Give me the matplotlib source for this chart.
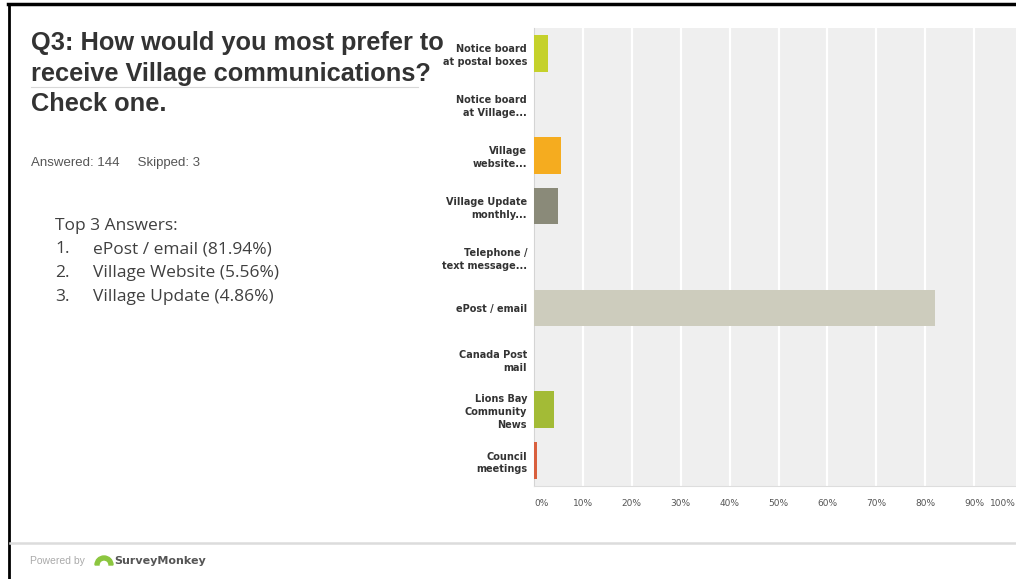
import matplotlib.pyplot as plt
from matplotlib.patches import Wedge
from matplotlib.lines import Line2D
from matplotlib.transforms import IdentityTransform, ScaledTranslation

W, H = 1016, 579

# answer options, top to bottom
categories = ["Notice board\nat postal boxes", "Notice board\nat Village...",
              "Village\nwebsite...", "Village Update\nmonthly...",
              "Telephone /\ntext message...", "ePost / email",
              "Canada Post\nmail", "Lions Bay\nCommunity\nNews",
              "Council\nmeetings"]
percents = [2.78, 0.0, 5.56, 4.86, 0.0, 81.94, 0.0, 4.17, 0.69]
bar_colors = ["#c5d12b", "#9bb83a", "#f5ac1f", "#8a8a79", "#4f9fd0",
              "#cdccbd", "#e0d7a0", "#a3bb36", "#d9603e"]

ticks = list(range(0, 101, 10))
tick_labels = [f"{t}%" for t in ticks]

title_lines = ["Q3: How would you most prefer to",
               "receive Village communications?",
               "Check one."]
answered, skipped = 144, 3
top3 = ["ePost / email (81.94%)", "Village Website (5.56%)", "Village Update (4.86%)"]


def fx(x):
    return x / W


def fy(y):
    return 1 - y / H


fig = plt.figure(figsize=(W / 100, H / 100), dpi=100)
fig.patch.set_facecolor("white")

# bar chart on the right
ax = fig.add_axes([fx(534), fy(486), 489 / W, 458 / H])
ax.set_facecolor("#efefef")
ax.barh(range(len(categories)), percents, height=0.72, color=bar_colors, zorder=3)
ax.set_xlim(0, 100)
ax.set_ylim(len(categories) - 0.5, -0.5)
ax.set_xticks(ticks)
ax.set_xticklabels(tick_labels)
ax.set_yticks(range(len(categories)))
ax.set_yticklabels(categories, fontsize=7, fontweight="bold", color="#333333",
                   linespacing=1.35)
ax.tick_params(axis="y", length=0, pad=5)
ax.tick_params(axis="x", length=0, pad=9, labelsize=6.5, labelcolor="#555555")
lbls = ax.get_xticklabels()
lbls[0].set_ha("left")
lbls[-1].set_ha("right")
lbls[-1].set_transform(lbls[-1].get_transform() +
                       ScaledTranslation(-7 / 100, 0, fig.dpi_scale_trans))
ax.grid(axis="x", color="white", linewidth=1.6, zorder=1)
for s in ["top", "right"]:
    ax.spines[s].set_visible(False)
ax.spines["left"].set_color("#d4d4d4")
ax.spines["bottom"].set_color("#dddddd")

# question title and counts
for i, line in enumerate(title_lines):
    fig.text(fx(31), fy(43 + 30.5 * i), line, fontsize=18.3, fontweight="bold",
             color="#333333", family="Liberation Sans", va="center")
fig.add_artist(Line2D([fx(31), fx(418)], [fy(87), fy(87)], color="#d8d8d8", lw=0.8))
fig.text(fx(31), fy(163), f"Answered: {answered}     Skipped: {skipped}", fontsize=9.5,
         color="#555555", family="Liberation Sans", va="center")

# top answers summary
fig.text(fx(55), fy(226), "Top 3 Answers:", fontsize=12.5, color="#404040",
         family="Open Sans", va="center")
for i, txt in enumerate(top3):
    y = fy(249 + 24 * i)
    fig.text(fx(55), y, f"{i + 1}.", fontsize=12.5, color="#404040",
             family="Open Sans", va="center")
    fig.text(fx(93), y, txt, fontsize=12.5, color="#404040",
             family="Open Sans", va="center")

# page frame and footer
fig.add_artist(Line2D([fx(8), 1], [fy(4), fy(4)], color="black", lw=2.5))
fig.add_artist(Line2D([fx(9), fx(9)], [fy(4), 0], color="black", lw=2))
fig.add_artist(Line2D([fx(10), 1], [fy(543), fy(543)], color="#dcdcdc", lw=1.8))
fig.text(fx(30), fy(561), "Powered by", fontsize=7.5, color="#aaaaaa",
         family="Liberation Sans", va="center")
fig.add_artist(Wedge((104, H - 565), 9, 0, 180, width=4,
                     color="#8cc63f", transform=IdentityTransform()))
fig.text(fx(114), fy(561), "SurveyMonkey", fontsize=8, fontweight="bold",
         color="#555555", family="DejaVu Sans", va="center")

fig.savefig("out.png", dpi=100)
